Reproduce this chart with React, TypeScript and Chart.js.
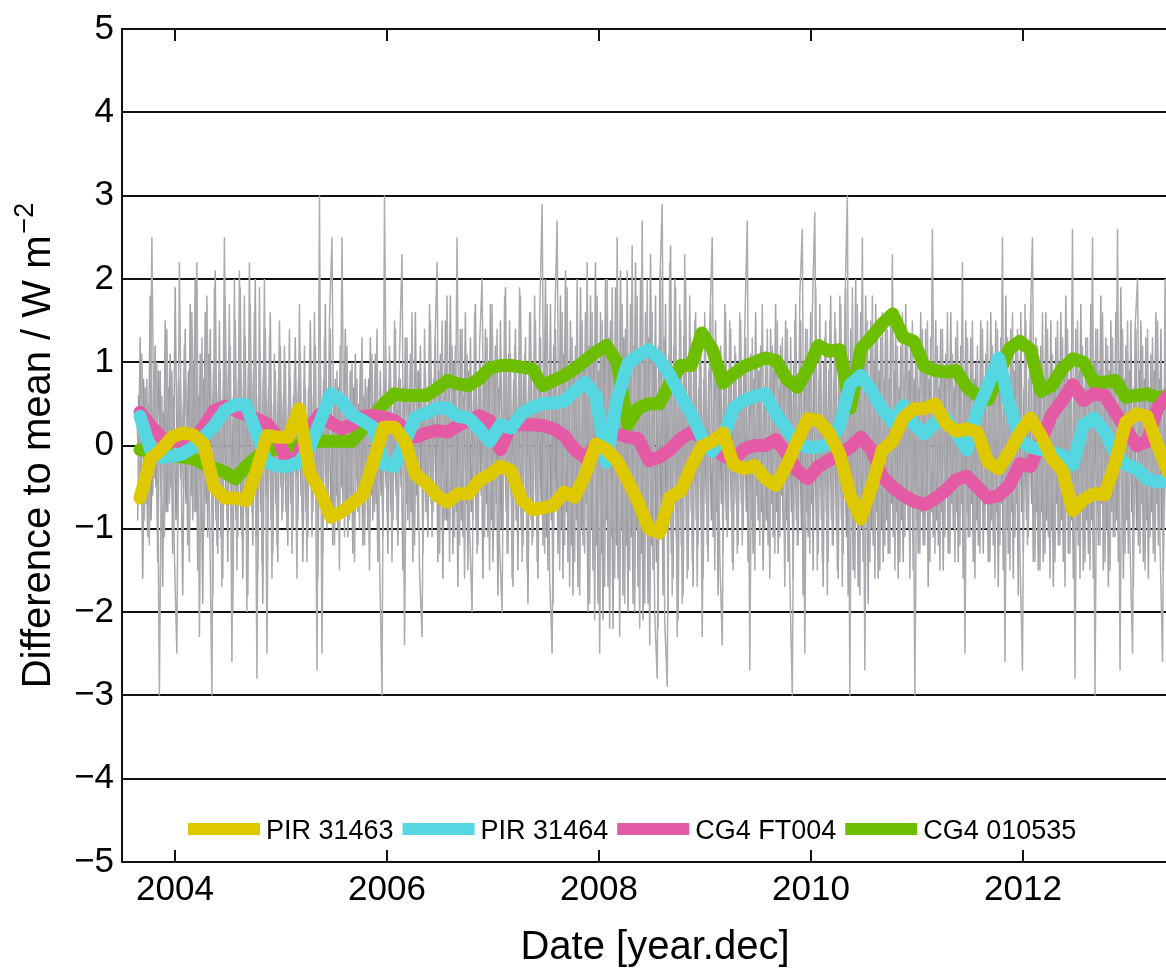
import React, { useEffect, useRef } from 'react';
import { Chart, registerables } from 'chart.js';

Chart.register(...registerables);

const FONT = "'Liberation Sans', Arial, Helvetica, sans-serif";

const seriesLabels = ['PIR 31463', 'PIR 31464', 'CG4 FT004', 'CG4 010535'];
const seriesColors = ['#dec800', '#55d7e1', '#e45aa5', '#6ebe00'];
const grayColors = ['#acacb1', '#a3a3a8', '#96969b'];

const xTicks = [2004, 2006, 2008, 2010, 2012];
const xMin = 2003.5;
const xMax = 2013.556;
const yMin = -5;
const yMax = 5;

// smoothed series sampled every 0.1 year starting at smoothStart
const smoothStart = 2003.67;
const smoothStep = 0.1;

const pir31463 = [
  -0.63, -0.16, -0.05, 0.1, 0.15, 0.13, 0.02, -0.5, -0.63, -0.63,
  -0.66, -0.3, 0.12, 0.1, 0.1, 0.44, -0.32, -0.55, -0.86, -0.8,
  -0.7, -0.6, -0.2, 0.22, 0.22, 0.05, -0.35, -0.45, -0.6, -0.68,
  -0.58, -0.58, -0.42, -0.35, -0.25, -0.3, -0.65, -0.77, -0.75, -0.72,
  -0.56, -0.62, -0.35, 0.02, -0.05, -0.18, -0.42, -0.68, -1.0, -1.05,
  -0.62, -0.55, -0.25, -0.01, 0.05, 0.15, -0.23, -0.28, -0.24, -0.4,
  -0.48, -0.24, 0.05, 0.32, 0.3, 0.15, -0.1, -0.6, -0.88, -0.5,
  -0.06, 0.05, 0.33, 0.44, 0.44, 0.5, 0.27, 0.17, 0.2, 0.16,
  -0.2, -0.28, -0.08, 0.15, 0.33, 0.12, -0.15, -0.3, -0.78, -0.65,
  -0.58, -0.59, -0.2, 0.28, 0.38, 0.35, 0.0, -0.32, -0.3, -0.25,
];

const pir31464 = [
  0.35, -0.05, -0.14, -0.13, -0.1, -0.02, 0.1, 0.24, 0.42, 0.49,
  0.49, 0.15, -0.2, -0.25, -0.25, -0.2, -0.02, 0.29, 0.62, 0.54,
  0.37, 0.3, 0.22, -0.22, -0.25, 0.05, 0.34, 0.39, 0.45, 0.45,
  0.35, 0.33, 0.2, 0.05, 0.25, 0.21, 0.38, 0.46, 0.5, 0.51,
  0.53, 0.65, 0.76, 0.6, -0.2, 0.55, 0.98, 1.08, 1.15, 1.04,
  0.84, 0.6, 0.38, 0.1, -0.07, 0.1, 0.45, 0.54, 0.59, 0.62,
  0.38, 0.2, 0.03, -0.02, -0.02, 0.02, 0.24, 0.73, 0.84, 0.66,
  0.44, 0.28, 0.48, 0.25, 0.14, 0.27, 0.33, 0.15, -0.05, 0.42,
  0.72, 1.05, 0.5, 0.07, -0.02, -0.05, -0.08, -0.12, -0.23, 0.25,
  0.33, 0.17, -0.1, -0.23, -0.28, -0.4, -0.44, -0.42, -0.45, -0.45,
];

const cg4Ft004 = [
  0.4, 0.24, 0.1, 0.05, 0.05, 0.08, 0.22, 0.42, 0.47, 0.42,
  0.37, 0.32, 0.26, 0.1, -0.25, -0.1, 0.22, 0.38, 0.27, 0.2,
  0.25, 0.35, 0.36, 0.34, 0.3, 0.2, 0.1, 0.15, 0.18, 0.16,
  0.24, 0.3, 0.36, 0.3, -0.05, 0.25, 0.25, 0.25, 0.24, 0.2,
  0.12, -0.05, -0.15, 0.0, 0.16, 0.14, 0.1, 0.08, -0.18, -0.14,
  -0.05, 0.08, 0.16, 0.1, 0.0, -0.12, -0.18, -0.04, 0.0, 0.0,
  0.07, -0.1, -0.3, -0.4, -0.25, -0.18, -0.1, -0.02, 0.1, -0.05,
  -0.37, -0.5, -0.6, -0.67, -0.71, -0.64, -0.54, -0.41, -0.37, -0.5,
  -0.63, -0.6, -0.48, -0.22, -0.25, 0.05, 0.37, 0.54, 0.73, 0.54,
  0.62, 0.6, 0.4, 0.2, 0.0, 0.05, 0.45, 0.6, 0.55, 0.5,
];

const cg4010535 = [
  -0.05, -0.07, -0.1, -0.12, -0.14, -0.16, -0.22, -0.27, -0.32, -0.4,
  -0.25, -0.14, -0.07, -0.03, 0.0, 0.0, 0.03, 0.05, 0.05, 0.05,
  0.05, 0.2, 0.35, 0.5, 0.62, 0.6, 0.6, 0.6, 0.68, 0.78,
  0.74, 0.72, 0.8, 0.93, 0.96, 0.96, 0.94, 0.92, 0.72, 0.78,
  0.84, 0.92, 1.02, 1.12, 1.2, 1.0, 0.25, 0.45, 0.5, 0.5,
  0.75, 0.96, 0.96, 1.35, 1.15, 0.75, 0.86, 0.95, 1.0, 1.05,
  1.02, 0.8, 0.7, 0.92, 1.2, 1.13, 1.15, 0.45, 1.16, 1.3,
  1.46, 1.58, 1.3, 1.25, 0.95, 0.9, 0.88, 0.9, 0.7, 0.6,
  0.55, 0.85, 1.16, 1.25, 1.15, 0.65, 0.72, 0.92, 1.04, 1.0,
  0.76, 0.76, 0.78, 0.58, 0.6, 0.62, 0.57, 0.6, 0.6, 0.6,
];

// raw differences (gray), three interleaved traces sampled from grayStart every grayStep years
const grayStart = 2003.64;
const grayStep = 0.0236;
const grayDiffA = [
  0.4, -0.6, 1.1, -0.9, 0.8, -1.2, 2.5, -0.4, 1.0, -3.0, 0.6, -1.1, 1.4, -0.7, 0.9, -1.3, -2.5, 2.2, -0.5, 1.2,
  0.3, -1.4, 1.6, -0.8, 2.2, -2.3, 1.3, -1.0, 1.8, -0.6, -3.0, 1.9, -1.2, 1.5, -1.7, 2.5, -0.9, 1.7, -2.6, 2.0,
  -1.5, 2.1, -1.1, 1.8, -2.0, 2.2, -0.8, 1.6, -2.8, 1.9, -1.4, 2.0, -2.5, 1.3, -1.6, 1.1, -1.2, 1.5, -0.9, 1.2,
  -1.0, 1.4, -1.3, 0.9, -1.6, 1.7, -0.8, 1.2, -1.4, 1.0, -1.1, 1.6, -2.7, 3.0, -2.5, 1.3, -1.0, 1.5, 2.5, -1.2,
  0.9, -1.5, 2.5, -1.1, 1.2, -0.9, 1.0, -1.4, 0.8, -1.0, 1.3, -1.2, 0.7, -1.5, 1.1, -0.8, 1.4, -1.3, -3.0, 3.0,
  -0.8, 1.2, -1.4, 1.5, -0.9, 1.1, 2.3, -2.4, 1.3, -1.0, 1.6, -1.2, 0.9, -1.5, -2.3, 1.4, -0.8, 1.7, -1.1, 1.0,
  2.2, -1.3, 1.5, -0.9, 1.8, -1.4, 1.2, -1.1, 2.5, -1.2, 1.4, -1.6, 1.1, -1.0, -2.0, 1.6, -1.3, 1.2, 2.0, -1.1,
  1.3, -1.5, 1.7, -1.0, 1.4, -1.2, -2.0, 1.8, -1.3, 1.5, -1.6, 1.2, -0.9, 1.9, -1.4, 1.1, -1.5, 1.6, -1.2, 1.8,
  -1.4, 1.5, 2.9, -1.3, 1.7, -1.6, -2.5, 1.4, 2.7, -1.5, 1.6, -1.2, 1.9, -1.7, 1.3, -1.4, 2.0, -1.8, 1.5, -1.3,
  2.2, -1.9, 1.6, -2.1, 1.8, -2.5, 1.5, -1.7, 2.0, -2.2, 1.9, -1.6, 2.5, -2.3, 1.7, -1.9, 2.1, -1.5, 2.4, -2.0,
  1.8, -2.2, 2.7, -1.9, 2.0, -2.4, 1.6, -2.0, -2.8, 1.9, 2.9, -2.1, -2.9, 2.2, -1.8, 2.0, -2.3, 1.7, -1.9, 2.3,
  -1.6, 1.8, -1.4, 1.5, -1.7, 1.3, -2.3, 1.6, -1.2, 1.4, 2.5, -1.5, 1.2, -1.3, -2.4, 1.7, -1.1, 1.5, -1.4, 1.2,
  -1.3, 1.6, -1.2, 1.4, 2.7, -2.7, 1.3, -1.5, 1.1, -1.2, 1.7, -1.0, 1.4, -1.6, 1.2, -1.3, 1.5, -1.1, 1.3, -1.7,
  1.4, -1.6, -3.0, 1.5, -1.2, 1.8, 2.6, -2.5, 1.4, -1.3, 1.6, 2.8, -1.5, 1.7, -1.4, 1.3, -1.8, 1.5, -1.2, 1.6,
  -1.5, 1.8, -1.7, 1.6, 3.0, -3.0, 1.9, -1.6, 1.7, -1.8, 2.5, -2.7, 1.5, -1.4, 1.8, -1.6, 1.3, -1.5, 1.6, -1.2,
  1.4, -1.3, 2.3, -1.5, 1.2, -1.4, 1.6, -1.1, 1.3, -1.6, 1.5, -3.0, 1.1, -1.3, 1.4, -1.2, 1.5, -1.4, 2.6, -1.3,
  1.2, -1.5, 1.4, -1.1, 1.6, -1.3, 1.1, -1.4, 1.5, -1.2, 2.2, -2.5, 1.3, -1.1, 1.5, -1.6, 1.2, -1.3, 1.4, -1.0,
  1.5, -1.4, 1.2, -1.6, 1.4, -1.2, 2.5, -2.6, 1.3, -1.5, 1.6, -1.1, 1.4, -1.3, -2.7, 1.7, -1.2, 1.3, 2.5, -1.4,
  1.2, -1.5, 1.6, -1.3, 1.4, -1.6, 1.1, -1.4, 1.5, -1.2, 1.3, -1.7, 1.4, -1.3, 2.6, -2.8, 1.5, -1.6, 1.2, -1.4,
  1.3, -1.5, 2.5, -3.0, 1.4, -1.2, 1.6, -1.4, 1.2, -1.5, 1.3, -1.1, 2.6, -2.7, 1.4, -1.3, 1.5, -1.2, -2.5, 1.4,
  2.0, -1.3, 1.2, -1.5, 1.4, -1.1, 1.3, -1.4, 1.5, -1.2, -2.6, 2.0, -1.3, 1.4, -1.2, 1.5, -1.1, 1.3, -1.4, 1.2,
];

const grayDiffB = [
  -0.9, 1.3, -1.6, 0.7, -1.1, 1.8, -0.6, 1.2, -1.4, 0.9, -1.7, 1.5, -0.8, 1.1, -1.3, 1.9, -1.0, 0.8, -1.8, 1.4,
  -1.2, 1.7, -0.9, 2.0, -1.5, 1.1, -1.9, 1.6, -1.1, 1.4, -1.8, 2.1, -1.3, 0.9, -1.6, 1.8, -1.4, 1.2, -2.0, 1.5,
  -1.1, 1.9, -1.6, 1.3, -1.8, 1.7, -1.2, 2.0, -1.5, 1.1, -1.9, 1.4, -1.0, 1.6, -1.3, 0.9, -1.4, 1.2, -0.8, 1.0,
  -1.2, 0.8, -1.0, 1.3, -0.9, 1.1, -1.4, 0.7, -1.1, 1.5, -0.8, 1.2, -1.6, 1.0, -1.3, 1.7, -0.9, 1.4, -1.2, 0.8,
  -1.0, 1.2, -0.7, 1.4, -1.1, 0.9, -1.3, 1.1, -0.8, 1.0, -1.2, 0.8, -1.0, 1.3, -0.9, 1.1, -1.4, 0.9, -1.1, 1.2,
  -1.3, 1.0, -0.9, 1.4, -1.2, 0.8, -1.5, 1.3, -0.9, 1.1, -1.4, 1.6, -1.0, 1.2, -1.3, 0.9, -1.1, 1.5, -0.8, 1.3,
  -1.4, 1.1, -1.6, 1.5, -1.0, 1.8, -1.3, 1.2, -1.7, 1.4, -1.1, 1.6, -1.5, 1.3, -0.9, 1.7, -1.2, 1.0, -1.6, 1.4,
  -1.1, 1.7, -1.4, 1.2, -1.8, 1.5, -1.0, 1.9, -1.3, 1.1, -1.7, 1.4, -1.5, 1.8, -1.2, 1.3, -1.9, 1.6, -1.1, 1.5,
  -1.6, 1.3, -1.2, 2.0, -1.5, 1.7, -1.9, 1.4, -1.3, 1.8, -1.6, 2.1, -1.4, 1.5, -1.8, 1.2, -1.7, 1.9, -1.2, 1.6,
  -2.0, 1.8, -1.5, 2.2, -1.9, 1.6, -2.1, 2.0, -1.7, 1.5, -2.2, 1.9, -1.6, 2.1, -1.8, 1.4, -2.0, 1.7, -1.9, 2.2,
  -1.7, 2.0, -2.1, 1.6, -1.9, 2.3, -1.5, 1.8, -2.2, 2.1, -1.8, 1.7, -2.0, 2.4, -1.6, 1.9, -2.1, 1.5, -1.8, 2.0,
  -1.5, 1.3, -1.7, 1.6, -1.2, 1.4, -1.6, 1.1, -1.4, 1.7, -1.1, 1.5, -1.8, 1.2, -1.3, 1.6, -1.0, 1.4, -1.5, 1.1,
  -1.2, 1.5, -1.0, 1.3, -1.4, 1.1, -1.3, 1.6, -0.9, 1.2, -1.5, 1.0, -1.2, 1.4, -1.1, 1.7, -1.3, 1.2, -1.0, 1.5,
  -1.4, 1.3, -1.6, 1.7, -1.2, 1.5, -1.8, 1.4, -1.1, 1.6, -1.5, 1.9, -1.3, 1.2, -1.7, 1.5, -1.4, 1.8, -1.2, 1.4,
  -1.6, 1.7, -1.3, 1.9, -1.8, 1.4, -1.5, 2.0, -1.7, 1.6, -1.4, 1.8, -1.9, 1.5, -1.2, 1.7, -1.6, 1.3, -1.4, 1.6,
  -1.3, 1.5, -1.1, 1.4, -1.6, 1.2, -1.4, 1.7, -1.0, 1.3, -1.5, 1.1, -1.3, 1.6, -1.2, 1.4, -1.7, 1.3, -1.1, 1.5,
  -1.2, 1.4, -1.5, 1.1, -1.3, 1.6, -1.0, 1.3, -1.4, 1.2, -1.6, 1.5, -1.1, 1.3, -1.4, 1.0, -1.2, 1.5, -1.3, 1.1,
  -1.4, 1.6, -1.2, 1.5, -1.7, 1.3, -1.5, 1.8, -1.3, 1.4, -1.6, 1.2, -1.8, 1.6, -1.3, 1.5, -1.1, 1.7, -1.4, 1.3,
  -1.5, 1.2, -1.4, 1.6, -1.1, 1.5, -1.7, 1.3, -1.2, 1.6, -1.4, 1.8, -1.3, 1.1, -1.6, 1.4, -1.2, 1.7, -1.5, 1.3,
  -1.3, 1.7, -1.6, 1.4, -1.2, 1.8, -1.5, 1.3, -1.7, 1.5, -1.1, 1.6, -1.4, 1.9, -1.6, 1.2, -1.3, 1.5, -1.7, 1.4,
  -1.2, 1.5, -1.4, 1.3, -1.6, 1.1, -1.3, 1.6, -1.2, 1.4, -1.5, 1.2, -1.3, 1.7, -1.1, 1.4, -1.6, 1.3, -1.2, 1.5,
];

const grayDiffC = [
  0.6, -0.4, 0.8, -0.7, 0.5, -0.9, 0.7, -0.5, 0.9, -0.6, 0.4, -0.8, 0.7, -0.5, 0.6, -0.9, 0.8, -0.4, 0.5, -0.7,
  0.9, -0.6, 1.0, -0.8, 0.6, -1.0, 0.8, -0.7, 1.1, -0.5, 0.9, -0.9, 0.7, -1.1, 0.8, -0.6, 1.0, -0.8, 0.6, -0.9,
  0.8, -1.0, 0.7, -0.8, 1.0, -0.7, 0.9, -1.1, 0.6, -0.8, 0.9, -0.6, 0.7, -0.9, 0.5, -0.7, 0.8, -0.5, 0.6, -0.8,
  0.5, -0.7, 0.6, -0.4, 0.8, -0.6, 0.5, -0.8, 0.7, -0.5, 0.6, -0.7, 0.4, -0.6, 0.8, -0.5, 0.6, -0.8, 0.5, -0.6,
  0.7, -0.5, 0.6, -0.7, 0.4, -0.6, 0.7, -0.4, 0.5, -0.7, 0.6, -0.5, 0.8, -0.6, 0.5, -0.7, 0.4, -0.6, 0.7, -0.5,
  0.6, -0.8, 0.5, -0.6, 0.8, -0.5, 0.7, -0.7, 0.5, -0.8, 0.6, -0.6, 0.9, -0.5, 0.7, -0.8, 0.5, -0.7, 0.8, -0.6,
  0.9, -0.7, 0.6, -0.9, 0.8, -0.6, 1.0, -0.8, 0.7, -0.9, 0.6, -0.7, 0.9, -0.8, 0.7, -1.0, 0.8, -0.6, 0.9, -0.7,
  0.8, -0.9, 1.0, -0.7, 0.7, -1.0, 0.9, -0.8, 1.1, -0.6, 0.8, -0.9, 0.7, -1.0, 1.0, -0.7, 0.8, -0.9, 0.9, -0.8,
  1.0, -0.8, 0.9, -1.1, 0.8, -0.9, 1.2, -0.7, 0.9, -1.0, 1.1, -0.8, 0.8, -1.2, 1.0, -0.9, 0.9, -1.0, 1.1, -0.7,
  1.2, -1.0, 1.1, -1.2, 0.9, -1.3, 1.2, -0.9, 1.3, -1.1, 1.0, -1.2, 1.1, -1.0, 1.3, -1.2, 0.9, -1.1, 1.2, -1.0,
  1.1, -1.3, 1.2, -1.0, 1.3, -1.2, 1.0, -1.4, 1.2, -1.1, 1.3, -1.0, 1.1, -1.3, 1.2, -1.1, 1.0, -1.2, 1.3, -1.0,
  0.9, -0.8, 1.0, -0.9, 0.7, -1.0, 0.8, -0.7, 0.9, -0.9, 0.7, -0.8, 1.0, -0.7, 0.8, -0.9, 0.7, -0.8, 0.9, -0.7,
  0.8, -0.7, 0.9, -0.8, 0.6, -0.9, 0.8, -0.6, 0.9, -0.8, 0.7, -0.9, 0.6, -0.7, 0.9, -0.8, 0.7, -0.6, 0.8, -0.9,
  0.9, -0.8, 1.0, -0.9, 0.8, -1.0, 0.9, -0.8, 1.0, -0.7, 0.9, -1.0, 0.8, -0.9, 1.0, -0.8, 0.9, -0.9, 0.8, -1.0,
  1.0, -0.9, 0.9, -1.1, 1.0, -0.8, 1.1, -0.9, 0.9, -1.0, 1.1, -0.9, 0.8, -1.0, 1.0, -0.8, 0.9, -1.0, 0.8, -0.9,
  0.8, -0.7, 0.9, -0.8, 0.7, -0.9, 0.8, -0.7, 0.9, -0.6, 0.8, -0.9, 0.7, -0.8, 0.9, -0.7, 0.8, -0.8, 0.7, -0.9,
  0.7, -0.8, 0.8, -0.6, 0.9, -0.7, 0.7, -0.8, 0.8, -0.7, 0.9, -0.8, 0.6, -0.7, 0.8, -0.9, 0.7, -0.6, 0.8, -0.7,
  0.8, -0.9, 0.7, -0.8, 0.9, -0.7, 0.8, -1.0, 0.7, -0.8, 0.9, -0.7, 1.0, -0.8, 0.7, -0.9, 0.8, -0.7, 0.9, -0.8,
  0.9, -0.8, 0.8, -0.9, 0.7, -1.0, 0.9, -0.7, 0.8, -0.9, 1.0, -0.8, 0.7, -0.9, 0.8, -1.0, 0.9, -0.8, 0.7, -0.9,
  0.8, -0.9, 1.0, -0.8, 0.9, -0.7, 0.8, -1.0, 0.9, -0.8, 0.7, -0.9, 1.0, -0.7, 0.8, -0.9, 0.9, -0.8, 0.7, -1.0,
  0.9, -0.7, 0.8, -0.9, 0.7, -0.8, 0.9, -0.7, 0.8, -1.0, 0.7, -0.8, 0.9, -0.7, 0.8, -0.9, 0.7, -0.8, 0.9, -0.7,
];

const grayTraces = [grayDiffA, grayDiffB, grayDiffC];
const grayOffsets = [0, 0.0079, 0.0157];

const smoothSeries = [pir31463, pir31464, cg4Ft004, cg4010535];

const yTitleMain = 'Difference to mean / W m';
const yTitleSup = '\u22122';
const xTitle = 'Date [year.dec]';

const fmtMinus = (v: number) => (v < 0 ? '\u2212' + Math.abs(v) : String(v));

const decorPlugin = {
  id: 'decor',
  afterDraw(chart: any) {
    const { ctx, chartArea } = chart;
    const xs = chart.scales.x;
    ctx.save();
    // inward tick marks on top and bottom borders
    ctx.strokeStyle = '#111';
    ctx.lineWidth = 2;
    xTicks.forEach((t) => {
      const px = Math.round(xs.getPixelForValue(t));
      ctx.beginPath();
      ctx.moveTo(px, chartArea.bottom);
      ctx.lineTo(px, chartArea.bottom - 12);
      ctx.moveTo(px, chartArea.top);
      ctx.lineTo(px, chartArea.top + 12);
      ctx.stroke();
    });

    // legend inside the plot area
    const ly = chartArea.bottom - 33;
    let lx = chartArea.left + 66;
    ctx.font = `27px ${FONT}`;
    ctx.textBaseline = 'alphabetic';
    ctx.textAlign = 'left';
    seriesLabels.forEach((lab, i) => {
      ctx.fillStyle = seriesColors[i];
      ctx.fillRect(lx, ly - 6, 72, 12);
      lx += 72 + 6;
      ctx.fillStyle = '#000';
      ctx.fillText(lab, lx, ly + 9.5);
      lx += ctx.measureText(lab).width + 9;
    });

    // rotated y title with superscript
    const cy = (chartArea.top + chartArea.bottom) / 2;
    ctx.translate(50, cy);
    ctx.rotate(-Math.PI / 2);
    ctx.font = `40px ${FONT}`;
    const wMain = ctx.measureText(yTitleMain).width;
    ctx.font = `27px ${FONT}`;
    const wSup = ctx.measureText(yTitleSup).width;
    const x0 = -(wMain + wSup + 2) / 2;
    ctx.fillStyle = '#000';
    ctx.font = `40px ${FONT}`;
    ctx.fillText(yTitleMain, x0, 0);
    ctx.font = `27px ${FONT}`;
    ctx.fillText(yTitleSup, x0 + wMain + 2, -17);
    ctx.restore();
  },
};

export default function App() {
  const ref = useRef<HTMLCanvasElement | null>(null);

  useEffect(() => {
    if (!ref.current) return;
    const datasets: any[] = smoothSeries.map((vals, i) => ({
      label: seriesLabels[i],
      data: vals.map((v, k) => ({ x: smoothStart + k * smoothStep, y: v })),
      borderColor: seriesColors[i],
      backgroundColor: seriesColors[i],
      borderWidth: 13,
      borderJoinStyle: 'round',
      borderCapStyle: 'round',
      pointRadius: 0,
      tension: 0,
      fill: false,
    }));
    grayTraces.forEach((vals, g) => {
      datasets.push({
        label: 'raw' + g,
        data: vals.map((v, k) => ({ x: grayStart + grayOffsets[g] + k * grayStep, y: v })),
        borderColor: grayColors[g],
        borderWidth: 1.5,
        pointRadius: 0,
        tension: 0,
        fill: false,
      });
    });

    const chart = new Chart(ref.current, {
      type: 'line',
      data: { datasets },
      options: {
        animation: false,
        responsive: false,
        devicePixelRatio: 1,
        layout: { padding: { top: 25, right: 12, left: 0, bottom: 0 } },
        plugins: {
          legend: { display: false },
          tooltip: { enabled: false },
        },
        scales: {
          x: {
            type: 'linear',
            min: xMin,
            max: xMax,
            afterBuildTicks: (s: any) => {
              s.ticks = xTicks.map((v) => ({ value: v }));
            },
            afterFit: (s: any) => {
              s.height = 112;
            },
            grid: { display: false, drawTicks: false },
            border: { display: true, color: '#111', width: 2 },
            ticks: {
              color: '#000',
              font: { family: FONT, size: 35 },
              padding: 7,
              maxRotation: 0,
              autoSkip: false,
              callback: (v: any) => String(v),
            },
            title: {
              display: true,
              text: xTitle,
              color: '#000',
              font: { family: FONT, size: 40 },
              padding: { top: 0, bottom: 2 },
            },
          },
          y: {
            type: 'linear',
            min: yMin,
            max: yMax,
            afterFit: (s: any) => {
              s.width = 122;
            },
            grid: { color: '#111', lineWidth: 2, drawTicks: false },
            border: { display: true, color: '#111', width: 2 },
            ticks: {
              stepSize: 1,
              color: '#000',
              font: { family: FONT, size: 35 },
              padding: 8,
              callback: (v: any) => fmtMinus(Number(v)),
            },
          },
        },
      },
      plugins: [decorPlugin],
    });
    return () => chart.destroy();
  }, []);

  return (
    <div style={{ position: 'fixed', left: 0, top: 0, width: 1166, height: 974, overflow: 'hidden', background: '#fff' }}>
      <canvas ref={ref} width={1200} height={974} style={{ display: 'block', width: 1200, height: 974 }} />
    </div>
  );
}
